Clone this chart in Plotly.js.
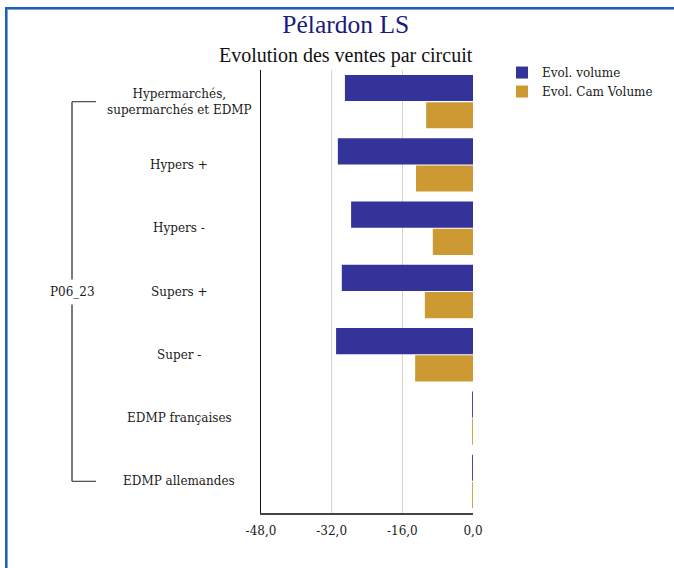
<!DOCTYPE html>
<html>
<head>
<meta charset="utf-8">
<script src="https://cdn.plot.ly/plotly-3.0.1.min.js"></script>
<style>
  html, body { margin: 0; padding: 0; background: #fff; }
  #wrap { position: relative; width: 674px; height: 568px; overflow: hidden; }
  #frame { position: absolute; left: 5px; top: 7px; width: 700px; height: 600px;
           border-left: 2px solid #1c5fb3; border-top: 2px solid #1c5fb3;
           box-shadow: inset 1px 1px 0 #7aa6dc; pointer-events: none; z-index: 5; }
  #chart { position: absolute; left: 0; top: 0; width: 674px; height: 568px; }
</style>
</head>
<body>
<div id="wrap">
  <div id="chart"></div>
  <div id="frame"></div>
</div>
<script>
const categories = [
  "Hypermarchés,<br>supermarchés et EDMP",
  "Hypers +",
  "Hypers -",
  "Supers +",
  "Super -",
  "EDMP françaises",
  "EDMP allemandes"
];
const groupLabel = "P06_23";
const seriesNames = ["Evol. volume", "Evol. Cam Volume"];
const evolVolume = [-29.0, -30.6, -27.6, -29.7, -31.0, -0.2, -0.2];
const evolCamVolume = [-10.6, -12.9, -9.1, -10.9, -13.1, -0.2, -0.2];
const xTicks = [-48, -32, -16, 0];
const xTickText = ["-48,0", "-32,0", "-16,0", "0,0"];

const yIdx = categories.map((c, i) => i);
const serif = "DejaVu Serif, serif";

const traces = [
  { type: "bar", orientation: "h", name: seriesNames[0], y: yIdx, x: evolVolume,
    marker: { color: "#333399" }, hoverinfo: "x" },
  { type: "bar", orientation: "h", name: seriesNames[1], y: yIdx, x: evolCamVolume,
    marker: { color: "#cc9933" }, hoverinfo: "x" }
];

const catAnnotations = categories.map((c, i) => ({
  text: c, x: (179 - 261) / 212, xref: "paper", y: i, yref: "y",
  xanchor: "center", yanchor: "middle", align: "center", showarrow: false,
  font: { family: serif, size: 12, color: "#1a1a1a" }
}));

const layout = {
  width: 674, height: 568,
  margin: { l: 261, r: 201, t: 70, b: 55, autoexpand: false },
  paper_bgcolor: "#fff", plot_bgcolor: "#fff",
  barmode: "group", bargap: 0.14, bargroupgap: 0.04,
  showlegend: true,
  legend: { x: (502 - 261) / 212, xanchor: "left", y: 1.027, yanchor: "top",
            font: { family: serif, size: 12, color: "#1a1a1a" },
            itemwidth: 30, tracegroupgap: 0, bgcolor: "rgba(0,0,0,0)" },
  title: { text: "Pélardon LS", x: 0.513, xref: "container", xanchor: "center",
           y: 0.957, yref: "container", yanchor: "middle",
           font: { family: "Liberation Serif, serif", size: 25.5, color: "#1a1a80" } },
  xaxis: { range: [-48, 0], tickvals: xTicks, ticktext: xTickText,
           showgrid: true, gridcolor: "#d4d4d4", gridwidth: 1,
           zeroline: false, showline: true, linecolor: "#444", linewidth: 1.5,
           ticks: "", ticklabelstandoff: 6,
           tickfont: { family: serif, size: 12, color: "#1a1a1a" },
           fixedrange: true },
  yaxis: { type: "linear", range: [6.5, -0.5], showticklabels: false, ticks: "",
           showgrid: false, zeroline: false, showline: true, linecolor: "#111",
           linewidth: 1.5, fixedrange: true },
  annotations: catAnnotations.concat([
    { text: "Evolution des ventes par circuit", xref: "paper", yref: "paper",
      x: (346 - 261) / 212, y: 1.0, yanchor: "bottom", xanchor: "center", yshift: 1, showarrow: false,
      font: { family: "Liberation Serif, serif", size: 20, color: "#111" } },
    { text: groupLabel, xref: "paper", yref: "y", x: (72 - 261) / 212, y: 3,
      xanchor: "center", yanchor: "middle", showarrow: false, bgcolor: "#fff",
      borderpad: 5, font: { family: serif, size: 12, color: "#1a1a1a" } }
  ]),
  shapes: [
    { type: "line", xref: "paper", yref: "y", x0: (72 - 261) / 212, x1: (72 - 261) / 212,
      y0: 0, y1: 6, line: { color: "#333", width: 1.3 }, layer: "below" },
    { type: "line", xref: "paper", yref: "y", x0: (72 - 261) / 212, x1: (96 - 261) / 212,
      y0: 0, y1: 0, line: { color: "#555", width: 1.3 }, layer: "below" },
    { type: "line", xref: "paper", yref: "y", x0: (72 - 261) / 212, x1: (96 - 261) / 212,
      y0: 6, y1: 6, line: { color: "#555", width: 1.3 }, layer: "below" }
  ]
};

Plotly.newPlot("chart", traces, layout, { displayModeBar: false, staticPlot: true });
</script>
</body>
</html>
